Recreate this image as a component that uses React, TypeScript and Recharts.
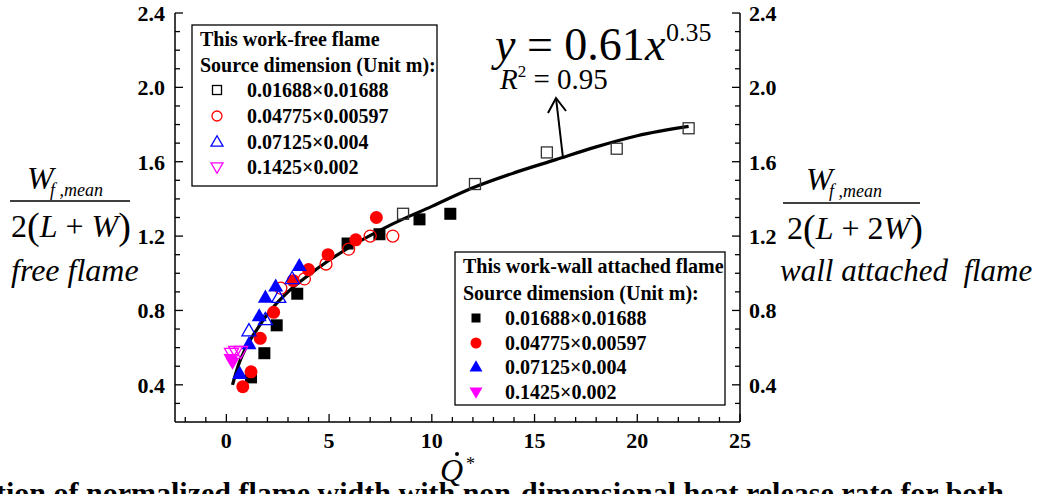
import React from "react";
import { ComposedChart, Scatter, Line, XAxis, YAxis } from "recharts";

// Q* (x) vs normalized mean flame width (y)
const freeSquare = [
  { x: 8.6, y: 1.32 },
  { x: 12.1, y: 1.48 },
  { x: 15.6, y: 1.65 },
  { x: 19.0, y: 1.67 },
  { x: 22.5, y: 1.78 },
];
const freeCircle = [
  { x: 2.65, y: 0.92 },
  { x: 3.8, y: 0.97 },
  { x: 4.85, y: 1.05 },
  { x: 5.95, y: 1.13 },
  { x: 7.0, y: 1.2 },
  { x: 8.1, y: 1.2 },
];
const freeUp = [
  { x: 1.1, y: 0.69 },
  { x: 1.9, y: 0.75 },
  { x: 2.55, y: 0.87 },
  { x: 3.2, y: 0.97 },
];
const freeDown = [
  { x: 0.25, y: 0.57 },
  { x: 0.45, y: 0.58 },
  { x: 0.7, y: 0.58 },
];

const wallSquare = [
  { x: 1.2, y: 0.44 },
  { x: 1.85, y: 0.57 },
  { x: 2.45, y: 0.72 },
  { x: 3.45, y: 0.89 },
  { x: 5.9, y: 1.16 },
  { x: 7.45, y: 1.21 },
  { x: 9.4, y: 1.29 },
  { x: 10.9, y: 1.32 },
];
const wallCircle = [
  { x: 0.8, y: 0.39 },
  { x: 1.2, y: 0.47 },
  { x: 1.65, y: 0.65 },
  { x: 2.3, y: 0.79 },
  { x: 3.25, y: 0.96 },
  { x: 4.0, y: 1.02 },
  { x: 4.95, y: 1.1 },
  { x: 6.3, y: 1.18 },
  { x: 7.3, y: 1.3 },
];
const wallUp = [
  { x: 0.65, y: 0.46 },
  { x: 1.1, y: 0.62 },
  { x: 1.6, y: 0.77 },
  { x: 1.9, y: 0.87 },
  { x: 2.4, y: 0.93 },
  { x: 3.55, y: 1.04 },
];
const wallDown = [
  { x: 0.2, y: 0.54 },
  { x: 0.3, y: 0.52 },
];

// fitted curve y = 0.61x^0.35
const fitCurve = [
  { x: 0.3, y: 0.4 },
  { x: 0.6, y: 0.51 },
  { x: 1, y: 0.61 },
  { x: 1.5, y: 0.7 },
  { x: 2, y: 0.78 },
  { x: 3, y: 0.9 },
  { x: 4, y: 0.99 },
  { x: 5, y: 1.07 },
  { x: 6, y: 1.14 },
  { x: 8, y: 1.26 },
  { x: 10, y: 1.36 },
  { x: 12, y: 1.46 },
  { x: 14, y: 1.54 },
  { x: 16, y: 1.61 },
  { x: 18, y: 1.68 },
  { x: 20, y: 1.74 },
  { x: 22.5, y: 1.79 },
];

const xTicks = [-2, -1, 0, 1, 2, 3, 4, 5, 6, 7, 8, 9, 10, 11, 12, 13, 14, 15, 16, 17, 18, 19, 20, 21, 22, 23, 24, 25];
const yTicks = [0.3, 0.4, 0.5, 0.6, 0.7, 0.8, 0.9, 1.0, 1.1, 1.2, 1.3, 1.4, 1.5, 1.6, 1.7, 1.8, 1.9, 2.0, 2.1, 2.2, 2.3, 2.4];
const sizeLabels = ["0.01688×0.01688", "0.04775×0.00597", "0.07125×0.004", "0.1425×0.002"];

const FONT = "'Liberation Serif', 'Times New Roman', serif";
const RED = "#ff0000";
const BLUE = "#0000ff";
const MAGENTA = "#ff00ff";

type Kind = "square" | "circle" | "up" | "down";

function Marker({ cx, cy, kind, color, filled, s }: { cx: number; cy: number; kind: Kind; color: string; filled: boolean; s: number }) {
  const fill = filled ? color : "none";
  const stroke = color;
  const sw = filled ? 0 : 1.3;
  if (kind === "square") {
    return <rect x={cx - s / 2} y={cy - s / 2} width={s} height={s} fill={fill} stroke={stroke} strokeWidth={sw} />;
  }
  if (kind === "circle") {
    return <circle cx={cx} cy={cy} r={s / 2} fill={fill} stroke={stroke} strokeWidth={sw} />;
  }
  const h = s * 0.87;
  if (kind === "up") {
    return (
      <polygon
        points={`${cx},${cy - h * 0.6} ${cx - s / 2},${cy + h * 0.4} ${cx + s / 2},${cy + h * 0.4}`}
        fill={fill}
        stroke={stroke}
        strokeWidth={sw}
      />
    );
  }
  return (
    <polygon
      points={`${cx},${cy + h * 0.6} ${cx - s / 2},${cy - h * 0.4} ${cx + s / 2},${cy - h * 0.4}`}
      fill={fill}
      stroke={stroke}
      strokeWidth={sw}
    />
  );
}

const shapeOf = (kind: Kind, color: string, filled: boolean, s: number) => (p: any) =>
  <Marker cx={p.cx} cy={p.cy} kind={kind} color={color} filled={filled} s={s} />;

function XTick(props: any) {
  const { x, y, payload } = props;
  const v = payload.value;
  const major = v % 5 === 0;
  return (
    <g>
      <line x1={x} x2={x} y1={y} y2={y - (major ? 8 : 5)} stroke="#000" strokeWidth={1.3} />
      {major && (
        <text x={x} y={y + 26} textAnchor="middle" fontFamily={FONT} fontWeight="bold" fontSize={22} fill="#000">
          {v}
        </text>
      )}
    </g>
  );
}

function YTick(props: any) {
  const { x, y, payload, right } = props;
  const v = payload.value;
  const major = Math.abs(v / 0.4 - Math.round(v / 0.4)) < 1e-6;
  const dir = right ? -1 : 1;
  return (
    <g>
      <line x1={x} x2={x + dir * (major ? 8 : 5)} y1={y} y2={y} stroke="#000" strokeWidth={1.3} />
      {major && (
        <text
          x={right ? x + 9 : x - 10}
          y={y + 8}
          textAnchor={right ? "start" : "end"}
          fontFamily={FONT}
          fontWeight="bold"
          fontSize={22}
          fill="#000"
        >
          {v.toFixed(1)}
        </text>
      )}
    </g>
  );
}

function LegendBox({ x, y, w, h, title, filled, rowY, symX, textX }: any) {
  const kinds: [Kind, string, number][] = filled
    ? [["square", "#000", 9], ["circle", RED, 11], ["up", BLUE, 13], ["down", MAGENTA, 13]]
    : [["square", "#000", 9], ["circle", RED, 10], ["up", BLUE, 12], ["down", MAGENTA, 12]];
  return (
    <g fontFamily={FONT} fontWeight="bold" fontSize={20} fill="#000">
      <rect x={x} y={y} width={w} height={h} fill="#fff" stroke="#000" strokeWidth={1.3} />
      <text x={x + 8} y={rowY[0] + 7}>{title}</text>
      <text x={x + 8} y={rowY[1] + 7}>Source dimension (Unit m):</text>
      {kinds.map(([k, c, s], i) => (
        <g key={i}>
          <Marker cx={symX} cy={rowY[i + 2]} kind={k} color={c} filled={filled} s={s} />
          <text x={textX} y={rowY[i + 2] + 7}>{sizeLabels[i]}</text>
        </g>
      ))}
    </g>
  );
}

export default function App() {
  return (
    <div style={{ position: "fixed", left: 0, top: 0, width: 1043, height: 494, overflow: "hidden", background: "#fff" }}>
      <ComposedChart width={1043} height={494} margin={{ top: 13, left: 115, right: 243, bottom: 42 }}>
        <XAxis
          type="number"
          dataKey="x"
          domain={[-2.5, 25]}
          ticks={xTicks}
          interval={0}
          allowDataOverflow
          tickSize={0}
          tickMargin={0}
          tickLine={false}
          height={30}
          axisLine={{ stroke: "#000", strokeWidth: 1.5 }}
          tick={<XTick />}
        />
        <XAxis
          xAxisId="top"
          orientation="top"
          type="number"
          dataKey="x"
          domain={[-2.5, 25]}
          allowDataOverflow
          height={0}
          tick={false}
          tickLine={false}
          axisLine={{ stroke: "#000", strokeWidth: 1.5 }}
        />
        <YAxis
          type="number"
          dataKey="y"
          domain={[0.2, 2.4]}
          ticks={yTicks}
          interval={0}
          allowDataOverflow
          width={60}
          tickSize={0}
          tickMargin={0}
          tickLine={false}
          axisLine={{ stroke: "#000", strokeWidth: 1.5 }}
          tick={<YTick />}
        />
        <YAxis
          yAxisId="r"
          orientation="right"
          type="number"
          dataKey="y"
          domain={[0.2, 2.4]}
          ticks={yTicks}
          interval={0}
          allowDataOverflow
          width={60}
          tickSize={0}
          tickMargin={0}
          tickLine={false}
          axisLine={{ stroke: "#000", strokeWidth: 1.5 }}
          tick={<YTick right />}
        />
        <Scatter data={wallSquare} shape={shapeOf("square", "#000", true, 12)} isAnimationActive={false} />
        <Scatter data={freeSquare} shape={shapeOf("square", "#333", false, 11)} isAnimationActive={false} />
        <Scatter data={wallCircle} shape={shapeOf("circle", RED, true, 13)} isAnimationActive={false} />
        <Scatter data={freeCircle} shape={shapeOf("circle", RED, false, 12)} isAnimationActive={false} />
        <Scatter data={wallUp} shape={shapeOf("up", BLUE, true, 15)} isAnimationActive={false} />
        <Scatter data={freeUp} shape={shapeOf("up", BLUE, false, 14)} isAnimationActive={false} />
        <Scatter data={wallDown} shape={shapeOf("down", MAGENTA, true, 14)} isAnimationActive={false} />
        <Scatter data={freeDown} shape={shapeOf("down", MAGENTA, false, 14)} isAnimationActive={false} />
        <Line
          data={fitCurve}
          dataKey="y"
          type="monotone"
          stroke="#000"
          strokeWidth={3.2}
          dot={false}
          activeDot={false}
          isAnimationActive={false}
        />
      </ComposedChart>

      <svg width={1043} height={494} style={{ position: "absolute", left: 0, top: 0, pointerEvents: "none" }}>
        <LegendBox
          x={192}
          y={25}
          w={245}
          h={161}
          title="This work-free flame"
          filled={false}
          rowY={[39, 65, 90, 116, 142, 167]}
          symX={217}
          textX={247}
        />
        <LegendBox
          x={455}
          y={252}
          w={270}
          h={153}
          title="This work-wall attached flame"
          filled
          rowY={[266, 293, 318, 343, 367, 392]}
          symX={476}
          textX={505}
        />

        {/* fit annotation */}
        <g fontFamily={FONT} fill="#000">
          <text x={495} y={60} fontSize={46}>
            <tspan fontStyle="italic">y</tspan>
            <tspan> = 0.61</tspan>
            <tspan fontStyle="italic">x</tspan>
          </text>
          <text x={666} y={41} fontSize={26}>0.35</text>
          <text x={500} y={89} fontSize={29}>
            <tspan fontStyle="italic">R</tspan>
            <tspan fontSize={17} dy={-12}>2</tspan>
            <tspan dy={12}> = 0.95</tspan>
          </text>
        </g>
        <g stroke="#000" strokeWidth={2} fill="none">
          <line x1={563} y1={158} x2={556} y2={98} />
          <polyline points="548,113 556,98 566,111" />
        </g>

        {/* left axis title */}
        <g fontFamily={FONT} fill="#000">
          <text x={27} y={189} fontSize={32} fontStyle="italic">W</text>
          <text x={50} y={196} fontSize={18} fontStyle="italic">f ,mean</text>
          <line x1={10} x2={130} y1={201} y2={201} stroke="#000" strokeWidth={1.5} />
          <text x={11} y={237} fontSize={32}>
            <tspan>2</tspan>
            <tspan fontSize={38} dy={2}>(</tspan>
            <tspan fontStyle="italic" dy={-2}>L</tspan>
            <tspan> + </tspan>
            <tspan fontStyle="italic">W</tspan>
            <tspan fontSize={38} dy={2}>)</tspan>
          </text>
          <text x={11} y={281} fontSize={32} fontStyle="italic">free flame</text>
        </g>

        {/* right axis title */}
        <g fontFamily={FONT} fill="#000">
          <text x={806} y={190} fontSize={32} fontStyle="italic">W</text>
          <text x={829} y={197} fontSize={18} fontStyle="italic">f ,mean</text>
          <line x1={783} x2={920} y1={203} y2={203} stroke="#000" strokeWidth={1.5} />
          <text x={787} y={239} fontSize={32}>
            <tspan>2</tspan>
            <tspan fontSize={38} dy={2}>(</tspan>
            <tspan fontStyle="italic" dy={-2}>L</tspan>
            <tspan> + 2</tspan>
            <tspan fontStyle="italic">W</tspan>
            <tspan fontSize={38} dy={2}>)</tspan>
          </text>
          <text x={780} y={281} fontSize={31} fontStyle="italic" style={{ whiteSpace: "pre" }}>
            wall attached  flame
          </text>
        </g>

        {/* x axis title */}
        <g fontFamily={FONT} fill="#000">
          <text x={440} y={481} fontSize={32} fontStyle="italic">Q</text>
          <circle cx={457} cy={454} r={2} />
          <text x={466} y={470} fontSize={18}>*</text>
        </g>

        {/* caption, cut off by the frame */}
        <text x={-4} y={503} fontFamily={FONT} fontWeight="bold" fontSize={30} fill="#000">
          tion of normalized flame width with non-dimensional heat release rate for both
        </text>
      </svg>
    </div>
  );
}
